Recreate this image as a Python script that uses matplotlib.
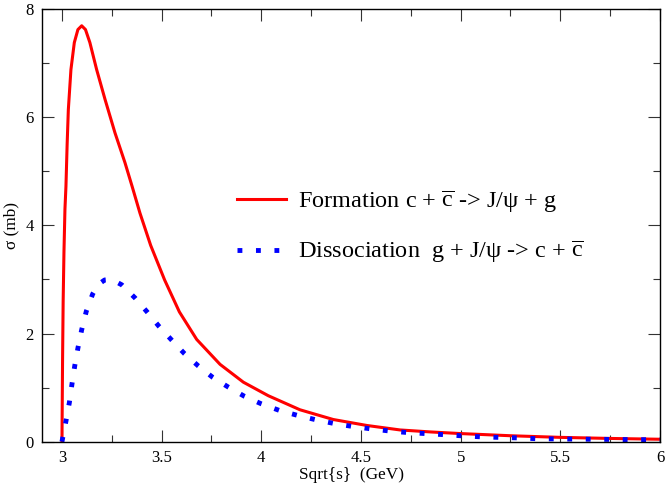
import numpy as np
import matplotlib
matplotlib.use('Agg')
import matplotlib.pyplot as plt
from matplotlib.ticker import MultipleLocator

plt.rcParams['font.family'] = ['Liberation Serif', 'DejaVu Serif']
plt.rcParams['mathtext.fontset'] = 'custom'
plt.rcParams['mathtext.rm'] = 'Liberation Serif'
plt.rcParams['mathtext.it'] = 'Liberation Serif:italic'

# formation cross section c + cbar -> J/psi + g
sqrt_s_form = [3.000, 3.003, 3.006, 3.010, 3.015, 3.020, 3.026, 3.032, 3.045,
               3.062, 3.080, 3.099, 3.118, 3.140, 3.174, 3.216, 3.266, 3.316,
               3.352, 3.391, 3.445, 3.515, 3.589, 3.676, 3.793, 3.910, 4.035,
               4.194, 4.361, 4.529, 4.696, 4.850, 5.000, 5.250, 5.500, 5.750,
               6.000]
sigma_form = [0.0, 1.5, 2.6, 3.5, 4.3, 4.72, 5.5, 6.14, 6.88,
              7.38, 7.62, 7.69, 7.62, 7.38, 6.88, 6.33, 5.71, 5.16,
              4.72, 4.23, 3.63, 2.99, 2.40, 1.89, 1.43, 1.10, 0.85,
              0.59, 0.41, 0.30, 0.217, 0.18, 0.15, 0.11, 0.08, 0.06,
              0.045]

# dissociation cross section g + J/psi -> c + cbar
sqrt_s_diss = [3.000, 3.020, 3.037, 3.050, 3.064, 3.080, 3.099, 3.122, 3.154,
               3.180, 3.214, 3.250, 3.300, 3.366, 3.427, 3.485, 3.550, 3.614,
               3.684, 3.756, 3.834, 3.915, 4.000, 4.089, 4.178, 4.268, 4.360,
               4.452, 4.544, 4.637, 4.730, 4.823, 4.915, 5.000, 5.100, 5.190,
               5.290, 5.380, 5.500, 5.650, 5.800, 6.000]
sigma_diss = [0.0, 0.38, 0.72, 1.06, 1.40, 1.73, 2.07, 2.41, 2.73,
              2.90, 2.99, 3.00, 2.90, 2.66, 2.40, 2.14, 1.88, 1.63,
              1.40, 1.19, 1.01, 0.84, 0.70, 0.58, 0.49, 0.41, 0.34,
              0.285, 0.24, 0.20, 0.17, 0.15, 0.13, 0.11, 0.09, 0.08,
              0.07, 0.055, 0.05, 0.045, 0.04, 0.035]

lbl_form = r'Formation c + $\overline{\mathrm{c}}$ -> J/ψ + g'
lbl_diss = r'Dissociation  g + J/ψ -> c + $\overline{\mathrm{c}}$'

fig = plt.figure(figsize=(6.66, 4.9), dpi=100)
ax = fig.add_axes([0.0631, 0.0986, 0.9279, 0.883])

ax.plot(sqrt_s_form, sigma_form, color='#ff0000', lw=2.2, label=lbl_form)
ax.plot(sqrt_s_diss, sigma_diss, color='#0000ff', lw=3.5,
        linestyle=(0, (1, 2.8)), label=lbl_diss)

ax.set_xlim(2.9, 6.0)
ax.set_ylim(0, 8)
ax.xaxis.set_minor_locator(MultipleLocator(0.25))
ax.yaxis.set_major_locator(MultipleLocator(2))
ax.yaxis.set_minor_locator(MultipleLocator(1))
ax.set_xticks([3, 3.5, 4, 4.5, 5, 5.5, 6])
ax.set_xticklabels(['3', '3.5', '4', '4.5', '5', '5.5', '6'])

ax.tick_params(which='both', direction='in', top=True, right=True,
               labelsize=12, width=0.8, color='#333333')
ax.tick_params(which='major', length=8.5, pad=6)
ax.tick_params(which='minor', length=5)
for sp in ax.spines.values():
    sp.set_linewidth(1.0)

ax.set_xlabel('Sqrt{s}  (GeV)', fontsize=12.4, labelpad=1)
ax.set_ylabel('σ (mb)', fontsize=12.4, labelpad=4)

leg = ax.legend(loc='center left', bbox_to_anchor=(0.316, 0.4965), frameon=False,
                fontsize=17.5, handlelength=2.0, handletextpad=0.5,
                labelspacing=1.0, borderpad=0, borderaxespad=0)

fig.savefig('out.png', dpi=100)
